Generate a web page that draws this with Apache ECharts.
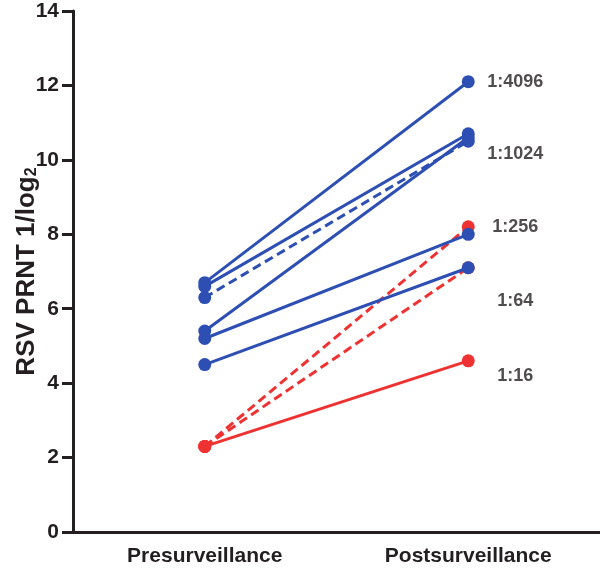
<!DOCTYPE html>
<html>
<head>
<meta charset="utf-8">
<script src="https://cdn.jsdelivr.net/npm/echarts@6/dist/echarts.min.js"></script>
<style>html,body{margin:0;padding:0;background:#fff}#c{width:600px;height:573px}</style>
</head>
<body>
<div id="c"></div>
<script>
const categories = ['Presurveillance', 'Postsurveillance'];
const preValues  = [2.3, 2.3, 2.3, 6.7, 6.6, 6.3, 5.4, 5.2, 4.5];
const postValues = [8.2, 7.1, 4.6, 12.1, 10.7, 10.5, 10.6, 8.0, 7.1];
const groups     = ['red', 'red', 'red', 'blue', 'blue', 'blue', 'blue', 'blue', 'blue'];
const lineKinds  = ['dashed', 'dashed', 'solid', 'solid', 'solid', 'dashed', 'solid', 'solid', 'solid'];
const titerLabels = ['1:4096', '1:1024', '1:256', '1:64', '1:16'];
const titerLabelY = [12.1, 10.15, 8.2, 6.2, 4.2];
const yTicks = [0, 2, 4, 6, 8, 10, 12, 14];

const palette = { blue: '#2d4fb3', red: '#ee3232' };
const ink = '#231f20';
const font = 'Liberation Sans, Arial, sans-serif';

const series = preValues.map((v, i) => ({
  type: 'line',
  data: [v, postValues[i]],
  symbol: 'circle',
  symbolSize: 13,
  silent: true,
  z: groups[i] === 'blue' ? 3 : 2,
  itemStyle: { color: palette[groups[i]] },
  lineStyle: {
    color: palette[groups[i]],
    width: 3,
    type: lineKinds[i] === 'dashed' ? [9, 5] : 'solid'
  }
}));

series.push({
  type: 'scatter',
  symbolSize: 0,
  silent: true,
  data: titerLabelY.map((y, i) => ({ value: [1, y], name: titerLabels[i] })),
  label: {
    show: true,
    position: 'inside',
    offset: [47, 0],
    formatter: p => p.name,
    color: ink,
    fontFamily: font,
    fontWeight: 'bold',
    fontSize: 18
  }
});

const chart = echarts.init(document.getElementById('c'), null, { renderer: 'canvas' });
chart.setOption({
  animation: false,
  backgroundColor: '#fff',
  grid: { left: 73, right: 0, top: 11, bottom: 41, containLabel: false, outerBoundsMode: 'none' },
  xAxis: {
    type: 'category',
    data: categories,
    boundaryGap: true,
    axisLine: { lineStyle: { color: ink, width: 3 } },
    axisTick: { alignWithLabel: true, length: 10, lineStyle: { color: ink, width: 3 } },
    axisLabel: { color: ink, fontFamily: font, fontWeight: 'bold', fontSize: 21, margin: 14 },
    splitLine: { show: false }
  },
  yAxis: {
    type: 'value',
    min: yTicks[0],
    max: yTicks[yTicks.length - 1],
    interval: 2,
    name: '{t|RSV PRNT 1/log}{s|2}',
    nameLocation: 'middle',
    nameGap: 33,
    nameRotate: 90,
    nameMoveOverlap: false,
    nameTextStyle: {
      rich: {
        t: { fontFamily: font, fontWeight: 'bold', fontSize: 26, color: ink, lineHeight: 30, verticalAlign: 'bottom' },
        s: { fontFamily: font, fontWeight: 'bold', fontSize: 16, color: ink, lineHeight: 22, verticalAlign: 'bottom' }
      }
    },
    axisLine: { show: true, lineStyle: { color: ink, width: 3 } },
    axisTick: { show: true, length: 11, lineStyle: { color: ink, width: 3 } },
    axisLabel: { color: ink, fontFamily: font, fontWeight: 'bold', fontSize: 21, margin: 14 },
    splitLine: { show: false }
  },
  series: series
});
</script>
</body>
</html>
